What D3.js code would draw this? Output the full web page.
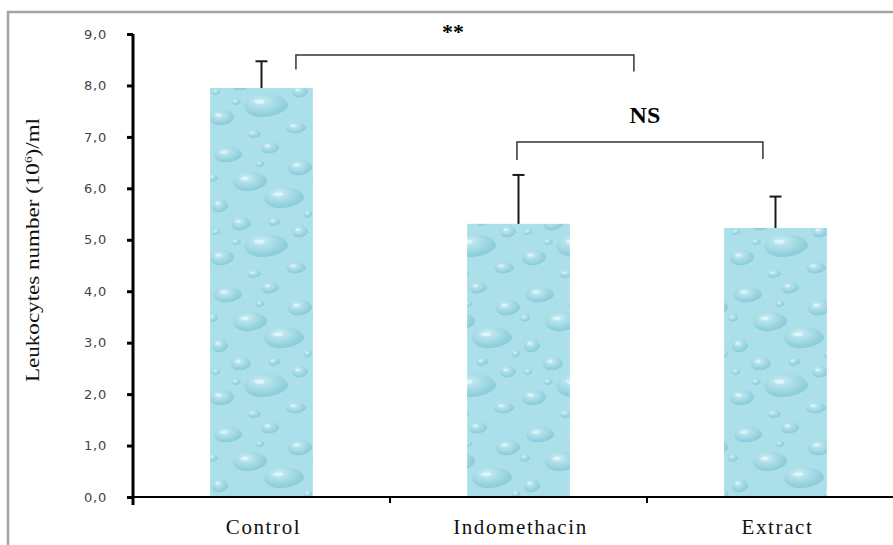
<!DOCTYPE html>
<html>
<head>
<meta charset="utf-8">
<script src="https://cdn.jsdelivr.net/npm/d3@7"></script>
<style>
  body { margin: 0; background: #fff; }
  svg { display: block; }
</style>
</head>
<body>
<svg id="chart" width="893" height="545"></svg>
<script>
// data
const groups = ["Control", "Indomethacin", "Extract"];
const means = [7.95, 5.31, 5.23];
const errors = [0.52, 0.95, 0.61];
const yTicks = [0, 1, 2, 3, 4, 5, 6, 7, 8, 9];
// brackets: ends in band units, heights in data units
const bracketLabels = ["**", "NS"];
const bracketFrom = [0.634, 1.494];
const bracketTo = [1.949, 2.451];
const bracketTop = [8.59, 6.90];
const bracketLeftDrop = [8.31, 6.55];
const bracketRightDrop = [8.27, 6.57];
const labelY = [9.05, 7.43];

const svg = d3.select("#chart");
const plotLeft = 133, plotRight = 904, plotTop = 34, plotBottom = 497;

const x = d3.scaleBand().domain(groups).range([plotLeft, plotRight]).padding(0);
const xPos = d3.scaleLinear().domain([0, groups.length]).range([plotLeft, plotRight]);
const y = d3.scaleLinear().domain([0, 9]).range([plotBottom, plotTop]);
const barW = x.bandwidth() * 0.4;

// outer frame (only top and left visible in the window)
svg.append("rect")
    .attr("x", 8).attr("y", 12)
    .attr("width", 1000).attr("height", 1000)
    .attr("fill", "none")
    .attr("stroke", "#a3a3a3")
    .attr("stroke-width", 2.5);

// water-drop texture for the bars
const defs = svg.append("defs");
const g1 = defs.append("radialGradient").attr("id", "drop")
    .attr("cx", "38%").attr("cy", "30%").attr("r", "70%");
g1.append("stop").attr("offset", "0%").attr("stop-color", "#d6f3f8");
g1.append("stop").attr("offset", "50%").attr("stop-color", "#a2d8e3");
g1.append("stop").attr("offset", "90%").attr("stop-color", "#7cc4d3");
g1.append("stop").attr("offset", "100%").attr("stop-color", "#b4e3ec");

const pat = defs.append("pattern").attr("id", "water")
    .attr("patternUnits", "userSpaceOnUse")
    .attr("width", 104).attr("height", 140);
pat.append("rect").attr("width", 104).attr("height", 140).attr("fill", "#abdfe9");
// decorative drops in one tile: [cx, cy, rx, ry]
const drops = [
  [20, 15, 14, 8], [62, 8, 9, 6], [92, 28, 12, 8], [42, 42, 17, 10],
  [12, 66, 8, 7], [76, 58, 20, 11], [33, 84, 10, 7], [92, 92, 8, 6],
  [58, 106, 22, 12], [14, 118, 12, 8], [88, 128, 10, 6], [46, 134, 7, 4],
  [5, 38, 5, 4], [100, 74, 4, 4], [28, 102, 5, 3], [66, 82, 6, 4],
  [52, 24, 4, 3], [8, 92, 4, 3]
];
pat.selectAll("ellipse.d").data(drops).join("ellipse")
    .attr("class", "d")
    .attr("cx", d => d[0]).attr("cy", d => d[1])
    .attr("rx", d => d[2]).attr("ry", d => d[3])
    .attr("fill", "url(#drop)")
    .attr("opacity", 0.7);
pat.selectAll("ellipse.h").data(drops).join("ellipse")
    .attr("class", "h")
    .attr("cx", d => d[0] - d[2] * 0.3).attr("cy", d => d[1] - d[3] * 0.35)
    .attr("rx", d => d[2] * 0.25).attr("ry", d => d[3] * 0.18)
    .attr("fill", "#eefbfd")
    .attr("opacity", 0.6);

// bars
svg.selectAll("rect.bar").data(groups).join("rect")
    .attr("class", "bar")
    .attr("x", d => x(d) + (x.bandwidth() - barW) / 2)
    .attr("y", (d, i) => y(means[i]))
    .attr("width", barW)
    .attr("height", (d, i) => y(0) - y(means[i]))
    .attr("fill", "url(#water)");

// error bars (upper only)
const eb = svg.append("g").attr("stroke", "#1a1a1a").attr("stroke-width", 2);
groups.forEach((g, i) => {
  const cx = x(g) + x.bandwidth() / 2;
  eb.append("line").attr("x1", cx).attr("x2", cx)
      .attr("y1", y(means[i])).attr("y2", y(means[i] + errors[i]));
  eb.append("line").attr("x1", cx - 6).attr("x2", cx + 6)
      .attr("y1", y(means[i] + errors[i])).attr("y2", y(means[i] + errors[i]));
});

// y axis
const yAxis = svg.append("g")
    .attr("transform", `translate(${plotLeft},0)`)
    .call(d3.axisLeft(y).tickValues(yTicks).tickSize(6).tickPadding(20)
        .tickFormat(d => d3.format(".1f")(d).replace(".", ",")));
yAxis.select(".domain").attr("stroke", "#000").attr("stroke-width", 3)
    .attr("d", `M0,${plotTop}V${plotBottom + 8}`);
yAxis.selectAll(".tick line").attr("stroke", "#000").attr("stroke-width", 3);
yAxis.selectAll(".tick text")
    .attr("font-family", "DejaVu Sans, Verdana, sans-serif")
    .attr("font-size", 13)
    .attr("letter-spacing", 0.8)
    .attr("fill", "#444");

// x axis
const xAxis = svg.append("g").attr("transform", `translate(0,${plotBottom})`);
xAxis.append("line").attr("x1", plotLeft).attr("x2", 893)
    .attr("stroke", "#000").attr("stroke-width", 2);
xAxis.selectAll("line.tk").data(groups.slice(1)).join("line")
    .attr("class", "tk")
    .attr("x1", d => x(d)).attr("x2", d => x(d))
    .attr("y1", 0).attr("y2", 6)
    .attr("stroke", "#000").attr("stroke-width", 2);
xAxis.selectAll("text").data(groups).join("text")
    .attr("x", d => x(d) + x.bandwidth() / 2 + 2)
    .attr("y", 37)
    .attr("text-anchor", "middle")
    .attr("font-family", "Liberation Serif, Times New Roman, serif")
    .attr("font-size", 21)
    .attr("letter-spacing", 1.6)
    .attr("fill", "#111")
    .text(d => d);

// y title
svg.append("text")
    .attr("transform", `translate(39,${(118 + 382) / 2}) rotate(-90)`)
    .attr("text-anchor", "middle")
    .attr("font-family", "Liberation Serif, Times New Roman, serif")
    .attr("font-size", 19)
    .attr("fill", "#111")
    .attr("textLength", 264)
    .attr("lengthAdjust", "spacingAndGlyphs")
    .html('Leukocytes number (10<tspan dy="-7" font-size="11">6</tspan><tspan dy="7">)/ml</tspan>');

// significance brackets
const br = svg.append("g").attr("fill", "none").attr("stroke", "#333").attr("stroke-width", 1.5);
bracketLabels.forEach((lab, i) => {
  const x1 = xPos(bracketFrom[i]), x2 = xPos(bracketTo[i]);
  br.append("path")
      .attr("d", `M${x1},${y(bracketLeftDrop[i])}V${y(bracketTop[i])}H${x2}V${y(bracketRightDrop[i])}`);
  svg.append("text")
      .attr("x", i === 0 ? (x1 + x2) / 2 - 12 : (x1 + x2) / 2 + 5)
      .attr("y", y(labelY[i]))
      .attr("dy", "0.35em")
      .attr("text-anchor", "middle")
      .attr("font-family", "Liberation Serif, Times New Roman, serif")
      .attr("font-weight", "bold")
      .attr("font-size", i === 0 ? 22 : 24)
      .attr("fill", "#000")
      .text(lab);
});
</script>
</body>
</html>
